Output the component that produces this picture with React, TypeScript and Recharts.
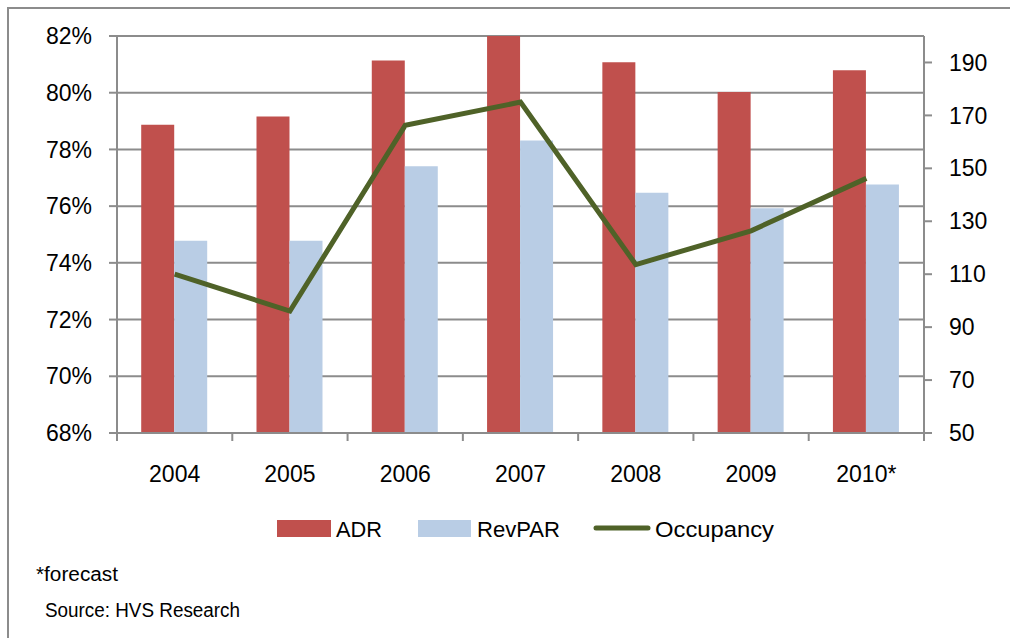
import React from 'react';
import { ComposedChart, Bar, Line, XAxis, YAxis, CartesianGrid, Legend } from 'recharts';

// values
const years = ['2004', '2005', '2006', '2007', '2008', '2009', '2010*'];
const adr = [166.5, 169.6, 190.7, 201, 190.1, 178.8, 187.1];
const revpar = [122.6, 122.6, 150.8, 160.5, 140.8, 134.9, 143.9];
const occupancy = [0.736, 0.723, 0.7885, 0.7967, 0.7394, 0.7513, 0.7698];
const pctTicks = [0.68, 0.7, 0.72, 0.74, 0.76, 0.78, 0.8, 0.82];
const dollarTicks = [50, 70, 90, 110, 130, 150, 170, 190];

const data = years.map((year, i) => ({ year, adr: adr[i], revpar: revpar[i], occ: occupancy[i] }));

const FONT = '"Liberation Sans", Arial, sans-serif';
const GRID = '#8c8c8c';
const RED = '#C0504D';
const BLUE = '#B9CDE5';
const GREEN = '#4F6228';

const NarrowText = ({ x, y, len, size, children }: any) => (
  <text x={x} y={y} textLength={len} lengthAdjust="spacingAndGlyphs" fontFamily={FONT} fontSize={size} fill="#000">
    {children}
  </text>
);

const YearTick = (props: any) => {
  const { x, y, payload, index, width } = props;
  const bw = (width || 807) / years.length;
  const last = index === years.length - 1;
  return (
    <g>
      <line x1={x - bw / 2} x2={x - bw / 2} y1={y} y2={y + 8} stroke={GRID} strokeWidth={2} />
      {last && <line x1={x + bw / 2} x2={x + bw / 2} y1={y} y2={y + 8} stroke={GRID} strokeWidth={2} />}
      <text x={x} y={y + 49} textAnchor="middle" fontFamily={FONT} fontSize={23} fill="#000">
        {payload.value}
      </text>
    </g>
  );
};

const LegendContent = () => (
  <svg width={1010} height={40} style={{ display: 'block' }}>
    <rect x={277} y={11} width={54} height={17} fill={RED} />
    <NarrowText x={336} y={28} len={46} size={22}>ADR</NarrowText>
    <rect x={418} y={11} width={53} height={17} fill={BLUE} />
    <NarrowText x={477} y={28} len={83} size={22}>RevPAR</NarrowText>
    <line x1={596} x2={648} y1={19} y2={19} stroke={GREEN} strokeWidth={5} strokeLinecap="round" />
    <NarrowText x={655} y={28} len={119} size={22}>Occupancy</NarrowText>
  </svg>
);

export default function App() {
  const axisTick = { fontFamily: FONT, fontSize: 23, fill: '#000' };
  return (
    <div style={{ position: 'absolute', left: 0, top: 0, width: 1010, height: 638, overflow: 'hidden', background: '#fff' }}>
      <div
        style={{
          position: 'absolute', left: 7, top: 7, width: 1100, height: 700,
          borderLeft: `2px solid ${GRID}`, borderTop: `2px solid ${GRID}`,
        }}
      />
      <div style={{ position: 'absolute', left: 0, top: 0 }}>
        <ComposedChart
          width={1010}
          height={638}
          data={data}
          margin={{ top: 36, right: 6, left: 37, bottom: 89 }}
          barCategoryGap="21%"
          barGap={0}
        >
          <CartesianGrid yAxisId="left" vertical={false} stroke={GRID} strokeWidth={2} />
          <XAxis
            dataKey="year"
            height={76}
            tickLine={false}
            tickSize={0}
            tickMargin={0}
            axisLine={{ stroke: GRID, strokeWidth: 2 }}
            tick={<YearTick />}
            interval={0}
          />
          <YAxis
            yAxisId="left"
            orientation="left"
            width={80}
            domain={[0.68, 0.82]}
            ticks={pctTicks}
            allowDataOverflow
            tickFormatter={(v: number) => `${Math.round(v * 100)}%`}
            tick={axisTick}
            tickSize={8}
            tickMargin={17}
            axisLine={{ stroke: GRID, strokeWidth: 2 }}
            tickLine={{ stroke: GRID, strokeWidth: 2 }}
          />
          <YAxis
            yAxisId="right"
            orientation="right"
            width={80}
            domain={[50, 200]}
            ticks={dollarTicks}
            allowDataOverflow
            tick={axisTick}
            tickSize={8}
            tickMargin={17}
            axisLine={{ stroke: GRID, strokeWidth: 2 }}
            tickLine={{ stroke: GRID, strokeWidth: 2 }}
          />
          <Bar yAxisId="right" dataKey="adr" name="ADR" fill={RED} isAnimationActive={false} />
          <Bar yAxisId="right" dataKey="revpar" name="RevPAR" fill={BLUE} isAnimationActive={false} />
          <Line
            yAxisId="left"
            dataKey="occ"
            name="Occupancy"
            stroke={GREEN}
            strokeWidth={5}
            dot={false}
            activeDot={false}
            isAnimationActive={false}
          />
          <Legend verticalAlign="bottom" content={<LegendContent />} wrapperStyle={{ left: 0, width: 1010 }} />
        </ComposedChart>
      </div>
      <svg width={1010} height={638} style={{ position: 'absolute', left: 0, top: 0, pointerEvents: 'none' }}>
        <NarrowText x={36} y={581} len={82} size={20}>*forecast</NarrowText>
        <NarrowText x={45} y={617} len={195} size={20}>Source: HVS Research</NarrowText>
      </svg>
    </div>
  );
}
